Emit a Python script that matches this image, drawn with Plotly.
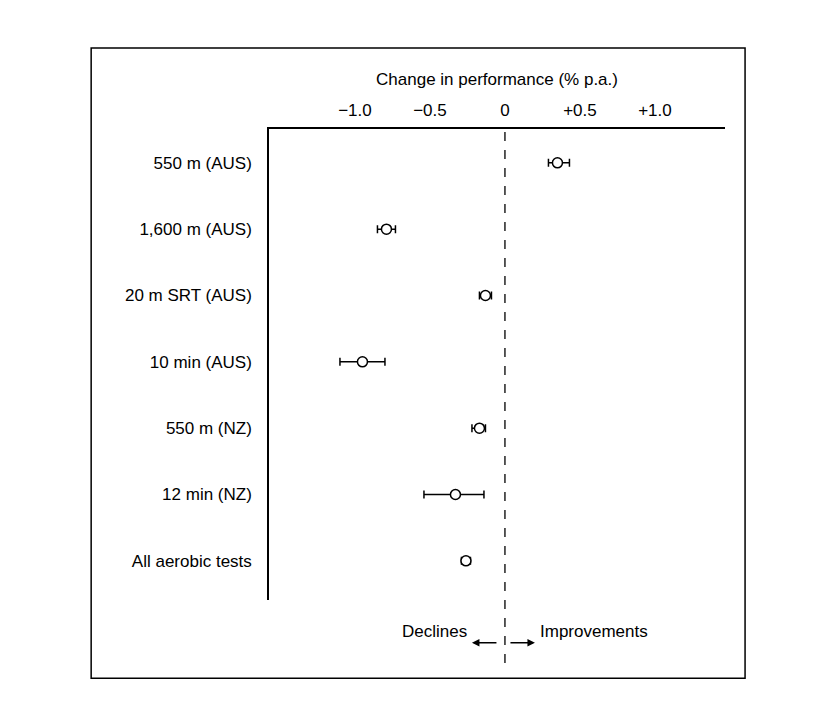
import plotly.graph_objects as go

labels = ["550 m (AUS)", "1,600 m (AUS)", "20 m SRT (AUS)", "10 min (AUS)",
          "550 m (NZ)", "12 min (NZ)", "All aerobic tests"]
estimate = [0.35, -0.79, -0.13, -0.95, -0.17, -0.33, -0.26]
lower = [0.29, -0.85, -0.17, -1.10, -0.22, -0.54, -0.29]
upper = [0.43, -0.73, -0.09, -0.80, -0.13, -0.14, -0.23]
tick_vals = [-1.0, -0.5, 0, 0.5, 1.0]
tick_text = ["\u22121.0", "\u22120.5", "0", "+0.5", "+1.0"]

ypos = list(range(len(labels)))
FONT = "Liberation Sans, Arial, sans-serif"

fig = go.Figure(go.Scatter(
    x=estimate, y=ypos, mode="markers",
    marker=dict(symbol="circle", size=10, color="white", line=dict(color="black", width=1.5)),
    error_x=dict(type="data", symmetric=False,
                 array=[u - e for u, e in zip(upper, estimate)],
                 arrayminus=[e - l for e, l in zip(estimate, lower)],
                 color="black", thickness=1.5, width=4),
    showlegend=False, cliponaxis=False))

fig.update_layout(
    width=820, height=712, paper_bgcolor="white", plot_bgcolor="white",
    margin=dict(l=261, r=103, t=121, b=120),
    font=dict(family=FONT, size=17, color="black"),
    xaxis=dict(side="top", range=[-1.573, 1.467], tickvals=tick_vals, ticktext=tick_text,
               showgrid=False, zeroline=False, showline=True, linecolor="black", linewidth=1.5,
               ticks="", ticklabelstandoff=4,
               title=dict(text="Change in performance (% p.a.)", standoff=12,
                          font=dict(size=17))),
    yaxis=dict(range=[6.59, -0.51], tickvals=ypos, ticktext=labels, showgrid=False,
               zeroline=False, showline=True, linecolor="black", linewidth=1.5, ticks="",
               ticklabelstandoff=12),
    shapes=[
        dict(type="line", xref="x", yref="paper", x0=0, x1=0, y0=-0.134, y1=1,
             line=dict(color="black", width=1.3, dash="dash")),
        dict(type="rect", xref="paper", yref="paper", x0=-0.390, x1=1.044, y0=-0.166, y1=1.172,
             line=dict(color="black", width=1.5)),
    ],
    annotations=[
        dict(xref="x", yref="paper", x=-0.22, y=-0.091, text="", showarrow=True,
             ax=26, ay=0, axref="pixel", ayref="pixel", arrowhead=2, arrowsize=1,
             arrowwidth=1.5, arrowcolor="black"),
        dict(xref="x", yref="paper", x=0.20, y=-0.091, text="", showarrow=True,
             ax=-26, ay=0, axref="pixel", ayref="pixel", arrowhead=2, arrowsize=1,
             arrowwidth=1.5, arrowcolor="black"),
        dict(xref="x", yref="paper", x=-0.24, y=-0.091, text="Declines", showarrow=False,
             xanchor="right", font=dict(size=17)),
        dict(xref="x", yref="paper", x=0.22, y=-0.091, text="Improvements", showarrow=False,
             xanchor="left", font=dict(size=17)),
    ],
)

fig.write_html("out.html")
